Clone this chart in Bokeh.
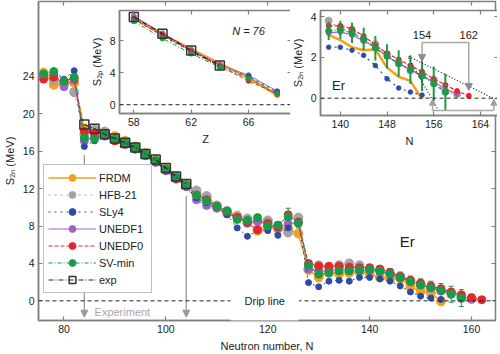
import math
from bokeh.plotting import figure
from bokeh.models import (ColumnDataSource, Range1d, LinearAxis, FixedTicker, Span, Label,
                          Legend, LegendItem, Arrow, NormalHead, Whisker, TeeHead)
from bokeh.layouts import column
from bokeh.embed import file_html
from bokeh.resources import INLINE

nan = float("nan")

# ---------------- main panel data: S2n of Er isotopes (MeV) ----------------
N_main = [76, 78, 80, 82, 84, 86, 88, 90, 92, 94, 96, 98, 100, 102, 104, 106, 108, 110, 112, 114,
          116, 118, 120, 122, 124, 126, 128, 130, 132, 134, 136, 138, 140, 142, 144, 146, 148, 150,
          152, 154, 156, 158, 160, 162]

frdm = [24.4, 23.1, 23.4, 23.3,
        18.4, 18.1, 17.9, 17.6, 17.1, 16.5, 15.8, 15.1, 14.2, 13.3, 12.5,
        11.5, 10.9, 10.1, 9.6, 9.1, 8.4, 7.5, 7.9, 7.7, 7.7, 7.2,
        3.3, 2.5, 3.0, 2.9, 3.0,
        3.1, 2.85, 2.5, 2.35, 2.4, 1.5, 1.05, 0.85, -0.05,
        nan, nan, nan, nan]
hfb21 = [24.2, 23.6, 23.2, 22.3,
         17.8, 18.3, 18.1, 17.4, 16.9, 16.3, 15.7, 15.0, 14.1, 13.2, 12.4,
         11.8, 11.2, 10.2, 9.6, 9.0, 8.8, 8.5, 8.6, 8.0, 7.3, 8.9,
         3.4, 3.8, 3.6, 3.8, 4.0,
         3.8, 3.4, 3.3, 2.85, 2.65, 2.15, 1.7, 1.35, 1.1, 0.85, 0.3, 0.2,
         nan]
sly4 = [24.2, 24.6, 23.7, 24.6,
        16.5, 17.1, 17.6, 17.2, 16.7, 16.2, 15.5, 14.8, 13.9, 13.0, 12.2,
        11.0, 10.5, 10.0, 9.2, 7.8, 6.9, 7.5, 7.5, 7.0, 7.8, 8.5,
        1.95, 1.5, 2.1, 2.2, 2.1,
        2.5, 2.5, 2.35, 2.1, 1.6, 0.95, 0.5, 0.3, 0.15,
        nan, nan, nan, nan]
unedf1 = [24.0, 24.2, 22.9, 23.6,
          17.1, 17.6, 17.6, 17.2, 16.7, 16.2, 15.5, 14.8, 13.9, 13.0, 12.2,
          10.8, 10.2, 9.9, 9.3, 8.9, 8.3, 8.5, 8.2, 7.8, 8.25, 8.4,
          3.4, 3.2, 3.2, 3.4, 3.4,
          3.2, 3.25, 3.1, 2.8, 2.5, 2.05, 1.7, 1.4, 1.1, 0.8, 0.45, 0.2,
          nan]
unedf0 = [23.7, 23.9, 23.5, 23.8,
          18.1, 17.95, 17.8, 17.1, 16.8, 16.3, 15.6, 14.9, 14.0, 13.1, 12.3,
          11.3, 10.8, 10.1, 9.5, 8.9, 8.4, 7.6, 8.3, 7.9, 9.2, 8.4,
          4.0, 3.7, 3.7, 3.7, 3.6,
          3.55, 3.55, 3.4, 3.05, 2.6, 2.2, 1.9, 1.6, 1.3, 0.95, 0.65, 0.35, 0.12]
svmin = [24.25, 24.5, 23.5, 23.9,
         17.4, 17.3, 17.8, 17.3, 16.9, 16.4, 15.7, 15.0, 14.1, 13.2, 12.4,
         11.3, 10.7, 10.1, 9.6, 8.7, 8.6, 8.9, 8.0, 8.1, 9.0, 8.3,
         3.8, 2.85, 3.0, 3.2, 3.2,
         3.3, 3.35, 3.2, 2.9, 2.45, 2.05, 1.7, 1.4, 1.1, 0.7, 0.3,
         nan, nan]
svmin_err = [0.3, 0.3, 0.3, 0.3,
             0.2, 0.2, 0.2, 0.2, 0.2, 0.2, 0.2, 0.2, 0.2, 0.2, 0.2,
             0.25, 0.25, 0.25, 0.25, 0.25, 0.25, 0.25, 0.25, 0.25, 0.9, 0.5,
             0.35, 0.35, 0.35, 0.4, 0.4,
             0.45, 0.45, 0.5, 0.55, 0.6, 0.6, 0.65, 0.7, 0.75, 0.85, 0.9,
             nan, nan]

N_exp = [84, 86, 88, 90, 92, 94, 96, 98, 100, 102, 104]
S2n_exp = [18.85, 18.4, 17.8, 17.35, 16.9, 16.4, 15.7, 15.1, 14.2, 13.3, 12.5]

# ---------------- inset 1: S2p of N = 76 isotones ----------------
Z_iso = [58, 60, 62, 64, 66, 68]
frdm_2p = [10.8, 8.8, 6.95, 5.15, 3.4, 1.2]
hfb21_2p = [10.9, 8.8, 6.8, 4.95, 3.5, 1.55]
sly4_2p = [10.75, 8.6, 6.6, 4.8, 3.55, 1.6]
unedf1_2p = [11.1, 8.95, 6.85, 5.0, 3.7, 1.7]
unedf0_2p = [10.7, 8.7, 6.7, 4.8, 3.0, 1.35]
svmin_2p = [10.45, 8.3, 6.4, 4.7, 3.3, 1.4]
Z_exp = [58, 60, 62, 64]
S2p_exp = [11.0, 8.9, 6.8, 4.9]

# ---------------- annotation data ----------------
exp_arrow_N = [84, 104]
exp_arrow_top = [15.6, 11.2]
exp_arrow_bottom = -1.75
drip_upper_N = [151.7, 166.3]
drip_upper_S = [2.05, -0.02]
drip_lower_N = [151.7, 156.8]
drip_lower_S = [1.98, -0.6]
bracket_top_N = [154, 162]
bracket_top_S = 2.73
bracket_top_tips = [1.8, 0.38]
bracket_bot_N = [155.8, 166.3]
bracket_bot_S = -0.6
bracket_bot_tip = -0.05

FONT = "Liberation Sans"
AX = "#7f7f7f"
TXT = "#222222"

styles = {
    "FRDM":   dict(color="#F5A01A", dash="solid", lw=1.5, size=9),
    "HFB-21": dict(color="#A3A3A3", dash="dotted", lw=1.2, size=9),
    "SLy4":   dict(color="#2B4BA6", dash="dotted", lw=1.0, size=6),
    "UNEDF1": dict(color="#A262C2", dash="solid", lw=1.0, size=8),
    "UNEDF0": dict(color="#E8252B", dash="4 2", lw=1.0, size=8),
    "SV-min": dict(color="#1B9B4A", dash="4 2 1 2", lw=1.0, size=8),
}
main_series = {"FRDM": frdm, "HFB-21": hfb21, "SLy4": sly4, "UNEDF1": unedf1,
               "UNEDF0": unedf0, "SV-min": svmin}
inset_series = {"FRDM": frdm_2p, "HFB-21": hfb21_2p, "SLy4": sly4_2p, "UNEDF1": unedf1_2p,
                "UNEDF0": unedf0_2p, "SV-min": svmin_2p}
draw_order = ["FRDM", "HFB-21", "UNEDF1", "SLy4", "UNEDF0", "SV-min"]
legend_order = ["FRDM", "HFB-21", "SLy4", "UNEDF1", "UNEDF0", "SV-min"]


def style_axes(fig, xticks, yticks, mirror_yticks=None, fs="10.5px"):
    for ax in fig.xaxis + fig.yaxis:
        ax.axis_line_color = AX
        ax.axis_line_width = 1.5
        ax.major_tick_line_color = AX
        ax.major_tick_line_width = 1.2
        ax.major_tick_in = 4
        ax.major_tick_out = 0
        ax.minor_tick_line_color = None
        ax.major_label_text_font = FONT
        ax.major_label_text_font_size = fs
        ax.major_label_text_color = TXT
        ax.axis_label_text_font = FONT
        ax.axis_label_text_font_size = "11px"
        ax.axis_label_text_font_style = "normal"
        ax.axis_label_text_color = TXT
        ax.major_label_standoff = 4
        ax.axis_label_standoff = 4
    fig.xaxis.ticker = FixedTicker(ticks=xticks)
    fig.yaxis.ticker = FixedTicker(ticks=yticks)
    for side, ticks in (("above", xticks), ("right", mirror_yticks or yticks)):
        ax = LinearAxis(ticker=FixedTicker(ticks=ticks), major_label_text_font_size="1px",
                        major_label_text_color=None,
                        major_label_standoff=0, major_tick_in=4, major_tick_out=0,
                        major_tick_line_color=AX, major_tick_line_width=1.2,
                        minor_tick_line_color=None, axis_line_color=None)
        fig.add_layout(ax, side)
    fig.xgrid.visible = False
    fig.ygrid.visible = False
    fig.outline_line_color = AX
    fig.outline_line_width = 1.5


# ================= main figure =================
p = figure(width=500, height=354, x_range=Range1d(75.0, 164.7), y_range=Range1d(-2.1, 32.0),
           output_backend="svg", toolbar_location=None,
           min_border_left=38, min_border_right=3, min_border_top=1, min_border_bottom=34,
           x_axis_label="Neutron number, N", y_axis_label="S₂ₙ (MeV)")
p.background_fill_color = "white"
p.border_fill_color = "white"
style_axes(p, [80, 100, 120, 140, 160], [0, 4, 8, 12, 16, 20, 24],
           mirror_yticks=[0, 4, 8, 12, 16, 20, 24, 28])

for k, n in enumerate(exp_arrow_N):
    p.add_layout(Arrow(x_start=n, y_start=exp_arrow_top[k], x_end=n, y_end=exp_arrow_bottom,
                       line_color="#9a9a9a", line_width=1.3, level="underlay",
                       end=NormalHead(size=7, fill_color="#9a9a9a", line_color="#9a9a9a")))

p.add_layout(Span(location=0, dimension="width", line_color="#222222", line_width=1,
                  line_dash="4 3"))

renderers = {}
for name in draw_order:
    st = styles[name]
    src = ColumnDataSource(dict(N=N_main, S=main_series[name]))
    l = p.line("N", "S", source=src, line_color=st["color"], line_width=st["lw"],
               line_dash=st["dash"])
    s = p.scatter("N", "S", source=src, size=st["size"], marker="circle",
                  fill_color=st["color"], line_color=st["color"])
    renderers[name] = [l, s]

ok = [i for i in range(len(N_main)) if not math.isnan(svmin[i])]
err_src = ColumnDataSource(dict(N=[N_main[i] for i in ok],
                                lo=[svmin[i] - svmin_err[i] for i in ok],
                                hi=[svmin[i] + svmin_err[i] for i in ok]))
p.add_layout(Whisker(source=err_src, base="N", lower="lo", upper="hi",
                     line_color=styles["SV-min"]["color"], line_width=1,
                     upper_head=TeeHead(size=5, line_color=styles["SV-min"]["color"]),
                     lower_head=TeeHead(size=5, line_color=styles["SV-min"]["color"])))

exp_src = ColumnDataSource(dict(N=N_exp, S=S2n_exp))
le = p.line("N", "S", source=exp_src, line_color="#222222", line_width=1.2, line_dash="5 2 1 2")
se = p.scatter("N", "S", source=exp_src, marker="square", size=9, fill_color=None,
               line_color="#333333", line_width=1.5)
renderers["exp"] = [le, se]

p.add_layout(Label(x=86, y=-1.2, text="Experiment", text_font=FONT, text_font_size="11px",
                   text_color="#a8a8a8", text_baseline="middle", text_align="left"))
p.add_layout(Label(x=119.4, y=0, text="Drip line", text_font=FONT, text_font_size="11px",
                   text_color=TXT, text_baseline="middle", text_align="center",
                   background_fill_color="white", padding=14))
p.add_layout(Label(x=147.4, y=6.3, text="Er", text_font=FONT, text_font_size="15px",
                   text_color=TXT, text_baseline="middle", text_align="center"))

items = [LegendItem(label=n, renderers=renderers[n]) for n in legend_order + ["exp"]]
legend = Legend(items=items, location=(5, 27), margin=0, padding=4, spacing=0,
                glyph_width=48, glyph_height=17, label_height=17, label_width=48,
                label_standoff=3, label_text_font=FONT, label_text_font_size="11px",
                label_text_color=TXT, border_line_color=AX, border_line_width=1.5,
                background_fill_color="white", background_fill_alpha=1.0)
p.add_layout(legend)

# ================= inset 1: S2p, N = 76 =================
i1 = figure(frame_width=172, frame_height=103, x_range=Range1d(57.0, 69.0),
            y_range=Range1d(-1.1, 11.8), output_backend="svg", toolbar_location=None,
            min_border_left=30, min_border_right=5, min_border_top=5, min_border_bottom=32,
            x_axis_label="Z", y_axis_label="S₂ₚ (MeV)")
i1.background_fill_color = "white"
i1.border_fill_color = None
style_axes(i1, [58, 62, 66], [0, 4, 8])
i1.xaxis[0].axis_label_text_font_style = "italic"
i1.add_layout(Span(location=0, dimension="width", line_color="#222222", line_width=1,
                   line_dash="4 3"))
for name in draw_order:
    st = styles[name]
    src = ColumnDataSource(dict(Z=Z_iso, S=inset_series[name]))
    lw = 2.5 if name == "FRDM" else 1.0
    i1.line("Z", "S", source=src, line_color=st["color"], line_width=lw, line_dash=st["dash"])
    i1.scatter("Z", "S", source=src, size=5, marker="circle", fill_color=st["color"],
               line_color=st["color"])
src = ColumnDataSource(dict(Z=Z_exp, S=S2p_exp))
i1.line("Z", "S", source=src, line_color="#222222", line_width=1.2, line_dash="5 2 1 2")
i1.scatter("Z", "S", source=src, marker="square", size=9, fill_color=None,
           line_color="#333333", line_width=1.5)
i1.add_layout(Label(x=66, y=9.2, text="N = 76", text_font=FONT, text_font_size="11px",
                    text_font_style="italic", text_color=TXT, text_baseline="middle",
                    text_align="center"))
i1.styles = {"position": "absolute", "left": "81px", "top": "5px"}

# ================= inset 2: S2n near drip line =================
i2 = figure(frame_width=178, frame_height=105, x_range=Range1d(136.6, 167.1),
            y_range=Range1d(-0.85, 4.3), output_backend="svg", toolbar_location=None,
            min_border_left=30, min_border_right=5, min_border_top=5, min_border_bottom=32,
            x_axis_label="N", y_axis_label="S₂ₙ (MeV)")
i2.background_fill_color = "white"
i2.border_fill_color = None
style_axes(i2, [140, 148, 156, 164], [0, 2, 4])
i2.xaxis[0].axis_label_text_font_style = "italic"
i2.add_layout(Span(location=0, dimension="width", line_color="#222222", line_width=1,
                   line_dash="4 3"))

sel = [i for i in range(len(N_main)) if N_main[i] >= 138]
inset2_size = {"FRDM": 0, "HFB-21": 7, "SLy4": 4.5, "UNEDF1": 5, "UNEDF0": 5, "SV-min": 6}
for name in draw_order:
    st = styles[name]
    src = ColumnDataSource(dict(N=[N_main[i] for i in sel], S=[main_series[name][i] for i in sel]))
    lw = 2.5 if name == "FRDM" else 1.2
    i2.line("N", "S", source=src, line_color=st["color"], line_width=lw, line_dash=st["dash"])
    if inset2_size[name] > 0:
        i2.scatter("N", "S", source=src, size=inset2_size[name], marker="circle",
                   fill_color=st["color"], line_color=st["color"])
ok2 = [i for i in sel if not math.isnan(svmin[i])]
i2.segment(x0=[N_main[i] for i in ok2], y0=[svmin[i] - svmin_err[i] for i in ok2],
           x1=[N_main[i] for i in ok2], y1=[svmin[i] + svmin_err[i] for i in ok2],
           line_color=styles["SV-min"]["color"], line_width=2)

i2.line(drip_upper_N, drip_upper_S, line_color="#222222", line_width=1.2, line_dash="1 2")
i2.line(drip_lower_N, drip_lower_S, line_color="#222222", line_width=1.2, line_dash="1 2")

BR = "#a9a9a9"
i2.line(bracket_top_N, [bracket_top_S, bracket_top_S], line_color=BR, line_width=1.5)
for k, n in enumerate(bracket_top_N):
    i2.add_layout(Arrow(x_start=n, y_start=bracket_top_S, x_end=n, y_end=bracket_top_tips[k],
                        line_color=BR, line_width=1.5,
                        end=NormalHead(size=7, fill_color="#8c8c8c", line_color="#8c8c8c")))
    i2.add_layout(Label(x=n, y=3.12, text=str(n), text_font=FONT, text_font_size="11px",
                        text_color=TXT, text_baseline="middle", text_align="center"))
i2.line(bracket_bot_N, [bracket_bot_S, bracket_bot_S], line_color=BR, line_width=1.5)
for n in bracket_bot_N:
    i2.add_layout(Arrow(x_start=n, y_start=bracket_bot_S, x_end=n, y_end=bracket_bot_tip,
                        line_color=BR, line_width=1.5,
                        end=NormalHead(size=6, fill_color="#a0a0a0", line_color="#a0a0a0")))
i2.add_layout(Label(x=139.7, y=0.62, text="Er", text_font=FONT, text_font_size="13px",
                    text_color=TXT, text_baseline="middle", text_align="center"))
i2.styles = {"position": "absolute", "left": "282px", "top": "5px"}

layout = column(p, i1, i2)
open("out.html", "w").write(file_html(layout, INLINE))
